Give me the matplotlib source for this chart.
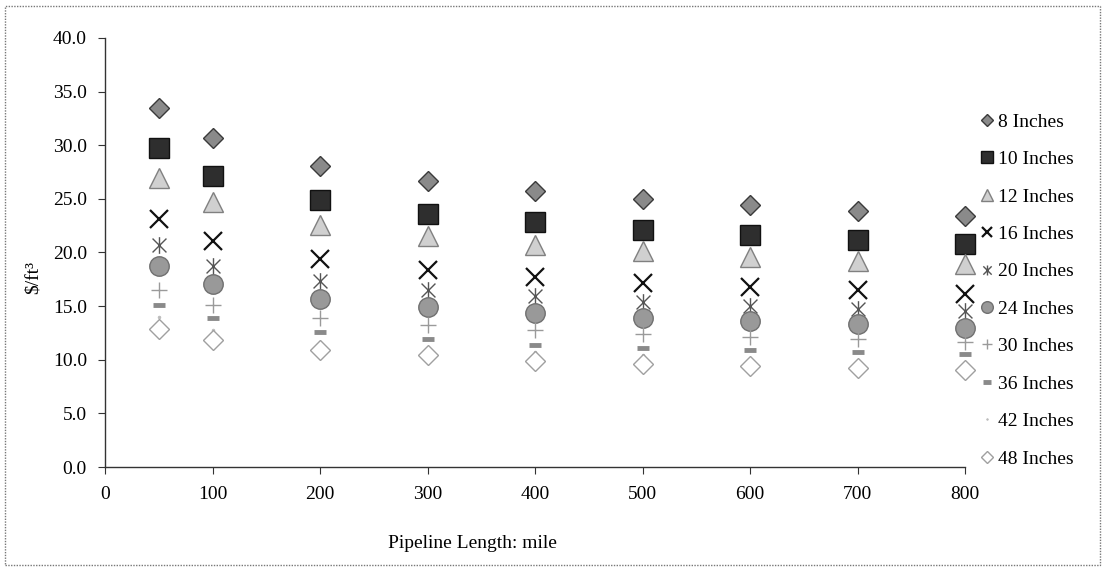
import numpy as np
import matplotlib
matplotlib.use('Agg')
import matplotlib.pyplot as plt
from matplotlib.path import Path
from matplotlib.patches import Rectangle

plt.rcParams['font.family'] = ['Liberation Serif', 'DejaVu Serif']

# длина трубопровода, мили
lengths = [50, 100, 200, 300, 400, 500, 600, 700, 800]

# стоимость, $/ft3, по диаметрам
labels = ['8 Inches', '10 Inches', '12 Inches', '16 Inches', '20 Inches',
          '24 Inches', '30 Inches', '36 Inches', '42 Inches', '48 Inches']
cost_8 = [33.5, 30.7, 28.1, 26.7, 25.7, 25.0, 24.4, 23.9, 23.4]
cost_10 = [29.7, 27.1, 24.9, 23.6, 22.8, 22.1, 21.6, 21.2, 20.8]
cost_12 = [26.9, 24.7, 22.6, 21.5, 20.7, 20.1, 19.6, 19.2, 18.9]
cost_16 = [23.1, 21.1, 19.4, 18.4, 17.7, 17.2, 16.8, 16.5, 16.1]
cost_20 = [20.7, 18.7, 17.3, 16.5, 15.9, 15.4, 15.0, 14.7, 14.5]
cost_24 = [18.7, 17.1, 15.7, 14.9, 14.4, 13.9, 13.6, 13.3, 13.0]
cost_30 = [16.5, 15.1, 13.9, 13.2, 12.8, 12.4, 12.1, 11.9, 11.7]
cost_36 = [15.1, 13.9, 12.6, 11.9, 11.4, 11.1, 10.9, 10.7, 10.5]
cost_42 = [14.0, 12.8, 11.7, 11.1, 10.7, 10.4, 10.1, 9.9, 9.7]
cost_48 = [12.9, 11.8, 10.9, 10.4, 9.9, 9.6, 9.4, 9.2, 9.0]

series = [cost_8, cost_10, cost_12, cost_16, cost_20,
          cost_24, cost_30, cost_36, cost_42, cost_48]

# маркер "звезда" как в Excel: крест + вертикальная черта
star = Path([(-1, -1), (1, 1), (-1, 1), (1, -1), (0, -1.2), (0, 1.2)],
            [Path.MOVETO, Path.LINETO, Path.MOVETO, Path.LINETO, Path.MOVETO, Path.LINETO])

styles = [
    dict(marker='D', ms=10, mfc='#8a8a8a', mec='#3a3a3a', mew=1.0),
    dict(marker='s', ms=14, mfc='#2e2e2e', mec='#111111', mew=1.0),
    dict(marker='^', ms=14, mfc='#d0d0d0', mec='#808080', mew=1.0),
    dict(marker='x', ms=13, mfc='none', mec='#111111', mew=1.6),
    dict(marker=star, ms=12, mfc='none', mec='#555555', mew=1.0),
    dict(marker='o', ms=14, mfc='#999999', mec='#707070', mew=1.0),
    dict(marker='+', ms=11, mfc='none', mec='#9a9a9a', mew=1.0),
    dict(marker='_', ms=9, mfc='none', mec='#8a8a8a', mew=3.5),
    dict(marker='.', ms=4, mfc='#bbbbbb', mec='#bbbbbb', mew=0.5),
    dict(marker='D', ms=10, mfc='white', mec='#a0a0a0', mew=1.0),
]

W, H = 1103, 568
fig = plt.figure(figsize=(W / 100, H / 100), dpi=100)
ax = fig.add_axes([105 / W, 1 - 467 / H, (965 - 105) / W, (467 - 38) / H])

for y, lab, st in zip(series, labels, styles):
    ax.plot(lengths, y, ls='none', label=lab, clip_on=False, **st)

ax.set_xlim(0, 800)
ax.set_ylim(0, 40)
ax.set_xticks(range(0, 801, 100))
ax.set_yticks(np.arange(0, 40.1, 5))
ax.set_yticklabels(['%.1f' % v for v in np.arange(0, 40.1, 5)])
ax.tick_params(axis='both', labelsize=14, length=5, width=0.8, color='#333333')
ax.tick_params(axis='x', pad=9)
ax.tick_params(axis='y', pad=8)
for s in ['top', 'right']:
    ax.spines[s].set_visible(False)
for s in ['left', 'bottom']:
    ax.spines[s].set_color('#333333')
    ax.spines[s].set_linewidth(1.0)

fig.text(33 / W, 1 - 277 / H, r'\$/ft³', rotation=90, ha='center', va='center', fontsize=14)
fig.text(472 / W, 1 - 543 / H, 'Pipeline Length: mile', ha='center', va='center', fontsize=14)

leg = fig.legend(loc='upper left', bbox_to_anchor=(980 / W, 1 - 113 / H), frameon=False,
                 fontsize=14, markerscale=0.6, handlelength=0.7, handletextpad=0.2,
                 labelspacing=1.02, borderaxespad=0, borderpad=0)

# рамка вокруг всего рисунка
fig.patches.append(Rectangle((5 / W, 3 / H), (1100 - 5) / W, (562 - 3) / H,
                             transform=fig.transFigure, fill=False,
                             ec='#777777', lw=1.0, ls=(0, (1, 1))))

plt.savefig('out.png', dpi=100)
